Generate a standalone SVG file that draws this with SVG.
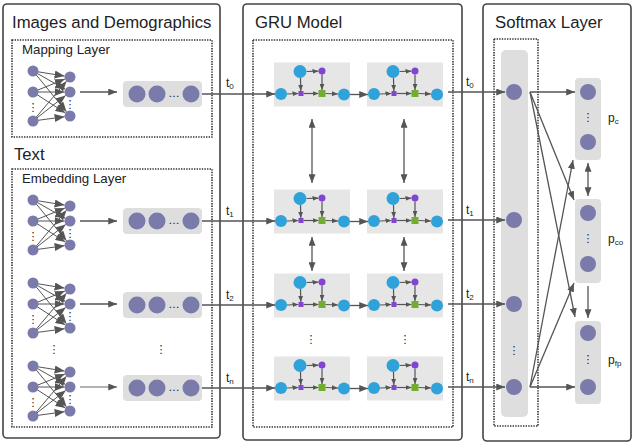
<svg xmlns="http://www.w3.org/2000/svg" xmlns:xlink="http://www.w3.org/1999/xlink" width="634" height="448" viewBox="0 0 634 448">
<style>
.panel{fill:#fff;stroke:#444;stroke-width:1.6}
.dot{fill:none;stroke:#333;stroke-width:1.6;stroke-dasharray:1.4 1.2}
.node{fill:#7a7aab}
.grey{fill:#dedede}
.cellbg{fill:#e6e6e6}
.blue{fill:#2ea2d9}
.purple{fill:#8244d2}
.green{fill:#72ad2f}
.ln{fill:none;stroke:#555;stroke-width:1.3}
.lnN{fill:none;stroke:#555;stroke-width:1}
.lnS{fill:none;stroke:#555;stroke-width:1.2}
.title{font-family:"Liberation Sans",Arial,sans-serif;font-size:16.7px;fill:#222}
.sub{font-family:"Liberation Sans",Arial,sans-serif;font-size:13.3px;fill:#222}
.lab{font-family:"Liberation Sans",Arial,sans-serif;font-size:12px;fill:#222}
.ell{font-family:"DejaVu Sans",sans-serif;font-size:11px;fill:#222}
</style>
<defs>
<marker id="arr" viewBox="0 0 10 8" refX="10" refY="4" markerWidth="9" markerHeight="7" markerUnits="userSpaceOnUse" orient="auto-start-reverse"><path d="M0,0 L10,4 L0,8 z" fill="#555"/></marker>
<marker id="arrN" viewBox="0 0 10 8" refX="10" refY="4" markerWidth="10" markerHeight="8" markerUnits="userSpaceOnUse" orient="auto"><path d="M0,0 L10,4 L0,8 z" fill="#555"/></marker>
<marker id="arrS" viewBox="0 0 10 8" refX="10" refY="4" markerWidth="6" markerHeight="5" markerUnits="userSpaceOnUse" orient="auto"><path d="M0,0 L10,4 L0,8 z" fill="#555"/></marker>
<g id="nn">
<g class="lnN" marker-end="url(#arrN)">
<path d="M33,0 L64.6,5.1"/><path d="M33,0 L65.2,18.3"/><path d="M33,0 L66.5,40.8"/>
<path d="M33,21 L64.9,8.1"/><path d="M33,21 L64.5,21"/><path d="M33,21 L65.4,42"/>
<path d="M33,50 L66.5,10.2"/><path d="M33,50 L65.7,24.4"/><path d="M33,50 L64.6,45.7"/>
</g>
<circle class="node" cx="33" cy="0" r="5.5"/><circle class="node" cx="33" cy="21" r="5.5"/><circle class="node" cx="33" cy="50" r="5.5"/>
<circle class="node" cx="70" cy="6" r="5.5"/><circle class="node" cx="70" cy="21" r="5.5"/><circle class="node" cx="70" cy="45" r="5.5"/>
<text class="ell" x="33" y="39.5" text-anchor="middle">⋮</text>
<text class="ell" x="70" y="37" text-anchor="middle">⋮</text>
</g>
<g id="vec">
<rect class="grey" x="123" y="-13" width="79" height="26" rx="4"/>
<circle class="node" cx="137" cy="0" r="8.5"/><circle class="node" cx="157" cy="0" r="8.5"/><circle class="node" cx="191" cy="0" r="8.5"/>
<text class="ell" x="174" y="3" text-anchor="middle" font-size="8">…</text>
</g>
<g id="cell">
<rect class="cellbg" x="0" y="0" width="76" height="44"/>
<g class="lnS" marker-end="url(#arrS)">
<path d="M13,31.5 L24.5,31"/><path d="M29.5,31 L44.5,31"/><path d="M51.5,31 L64,31.5"/>
<path d="M32.5,9 L44.5,8.7"/><path d="M26.5,15.5 L26.8,28.5"/><path d="M48,12 L48,27.5"/>
</g>
<circle class="blue" cx="7" cy="31.5" r="6"/>
<rect class="purple" x="24.5" y="28.5" width="5" height="5"/>
<rect class="green" x="44.5" y="27.5" width="7" height="7"/>
<circle class="blue" cx="70" cy="32" r="6"/>
<circle class="blue" cx="26" cy="9" r="6.5"/>
<circle class="purple" cx="48" cy="8.5" r="3.5"/>
</g>
</defs>

<g id="panel-images-text">
<rect class="panel" x="3" y="4" width="217" height="434" rx="4"/>
<text class="title" x="12" y="28">Images and Demographics</text>
<text class="title" x="14" y="160">Text</text>
</g>
<g id="mapping-layer">
<rect class="dot" x="12" y="40" width="200" height="97"/>
<text class="sub" x="22" y="54">Mapping Layer</text>
<use href="#nn" x="0" y="71"/>
<use href="#vec" x="0" y="94"/>
</g>
<g id="embedding-layer">
<rect class="dot" x="12" y="169" width="200" height="258"/>
<text class="sub" x="22" y="183">Embedding Layer</text>
<use href="#nn" x="0" y="200"/>
<use href="#vec" x="0" y="221"/>
<use href="#nn" x="0" y="283"/>
<use href="#vec" x="0" y="305"/>
<use href="#nn" x="0" y="366"/>
<use href="#vec" x="0" y="388"/>
<text class="ell" x="54" y="353" text-anchor="middle">⋮</text>
<text class="ell" x="161" y="353" text-anchor="middle">⋮</text>
</g>

<g id="panel-gru">
<rect class="panel" x="243" y="4" width="219" height="436" rx="4"/>
<text class="title" x="255" y="28">GRU Model</text>
<rect class="dot" x="253" y="40" width="200" height="387"/>
</g>
<g id="gru-cells">
<use href="#cell" x="274" y="62.5"/><use href="#cell" x="367" y="62.5"/>
<use href="#cell" x="274" y="189.5"/><use href="#cell" x="367" y="189.5"/>
<use href="#cell" x="274" y="273.5"/><use href="#cell" x="367" y="273.5"/>
<use href="#cell" x="274" y="356.5"/><use href="#cell" x="367" y="356.5"/>
<text class="ell" x="311" y="343" text-anchor="middle">⋮</text>
<text class="ell" x="405" y="343" text-anchor="middle">⋮</text>
</g>

<g id="panel-softmax">
<rect class="panel" x="483" y="4" width="148" height="437" rx="4"/>
<text class="title" x="495" y="28">Softmax Layer</text>
<rect class="dot" x="494" y="39" width="44" height="387"/>
<rect class="grey" x="501" y="50" width="27" height="367" rx="5"/>
<circle class="node" cx="514" cy="92" r="8"/>
<circle class="node" cx="514" cy="220" r="8"/>
<circle class="node" cx="514" cy="304" r="8"/>
<circle class="node" cx="514" cy="387" r="8"/>
<text class="ell" x="514" y="354" text-anchor="middle">⋮</text>
</g>
<g id="out-pc">
<rect class="grey" x="575" y="78" width="26" height="82" rx="4"/>
<circle class="node" cx="588" cy="92" r="8"/><circle class="node" cx="588" cy="142" r="8"/>
<text class="ell" x="588" y="121" text-anchor="middle" font-size="8">⋮</text>
<text class="lab" x="608" y="122">p<tspan font-size="8" dy="2">c</tspan></text>
</g>
<g id="out-pco">
<rect class="grey" x="575" y="199" width="26" height="84" rx="4"/>
<circle class="node" cx="588" cy="213" r="8"/><circle class="node" cx="588" cy="264" r="8"/>
<text class="ell" x="588" y="242" text-anchor="middle" font-size="8">⋮</text>
<text class="lab" x="608" y="243">p<tspan font-size="8" dy="2">co</tspan></text>
</g>
<g id="out-pfp">
<rect class="grey" x="575" y="321" width="26" height="83" rx="4"/>
<circle class="node" cx="588" cy="333" r="8"/><circle class="node" cx="588" cy="387" r="8"/>
<text class="ell" x="588" y="363" text-anchor="middle" font-size="8">⋮</text>
<text class="lab" x="608" y="364">p<tspan font-size="8" dy="2">fp</tspan></text>
</g>

<g id="connectors">
<g class="ln" marker-end="url(#arr)">
<path d="M80,92 L117,92"/>
<path d="M80,221 L117,221"/>
<path d="M80,304 L117,304"/>
<path d="M80,387 L117,387" stroke="#999"/>
<path d="M202,94 L275,94"/>
<path d="M202,221 L275,221"/>
<path d="M202,305 L275,305"/>
<path d="M202,388 L275,388"/>
<path d="M350,94.5 L368,94.5"/>
<path d="M350,221.5 L368,221.5"/>
<path d="M350,305.5 L368,305.5"/>
<path d="M350,388.5 L368,388.5"/>
<path d="M448,92 L505,92"/>
<path d="M448,220 L505,220"/>
<path d="M448,304 L505,304"/>
<path d="M448,387 L505,387"/>
<path d="M530,92 L575,92"/>
<path d="M530,92 L574,200"/>
<path d="M530,92 L575,317"/>
<path d="M530,387 L575,387"/>
<path d="M530,387 L574,283"/>
<path d="M530,387 L573,160"/>
<path d="M588,286 L588,318"/>
</g>
<g class="ln" marker-start="url(#arr)" marker-end="url(#arr)">
<path d="M312,119 L312,183"/>
<path d="M404,119 L404,183"/>
<path d="M312,237 L312,271"/>
<path d="M404,237 L404,271"/>
<path d="M588,163 L588,196"/>
</g>
<text class="lab" x="226" y="87">t<tspan font-size="8" dy="2">0</tspan></text>
<text class="lab" x="226" y="215">t<tspan font-size="8" dy="2">1</tspan></text>
<text class="lab" x="226" y="299">t<tspan font-size="8" dy="2">2</tspan></text>
<text class="lab" x="226" y="382">t<tspan font-size="8" dy="2">n</tspan></text>
<text class="lab" x="466" y="86">t<tspan font-size="8" dy="2">0</tspan></text>
<text class="lab" x="466" y="214">t<tspan font-size="8" dy="2">1</tspan></text>
<text class="lab" x="466" y="298">t<tspan font-size="8" dy="2">2</tspan></text>
<text class="lab" x="466" y="381">t<tspan font-size="8" dy="2">n</tspan></text>
</g>
</svg>
